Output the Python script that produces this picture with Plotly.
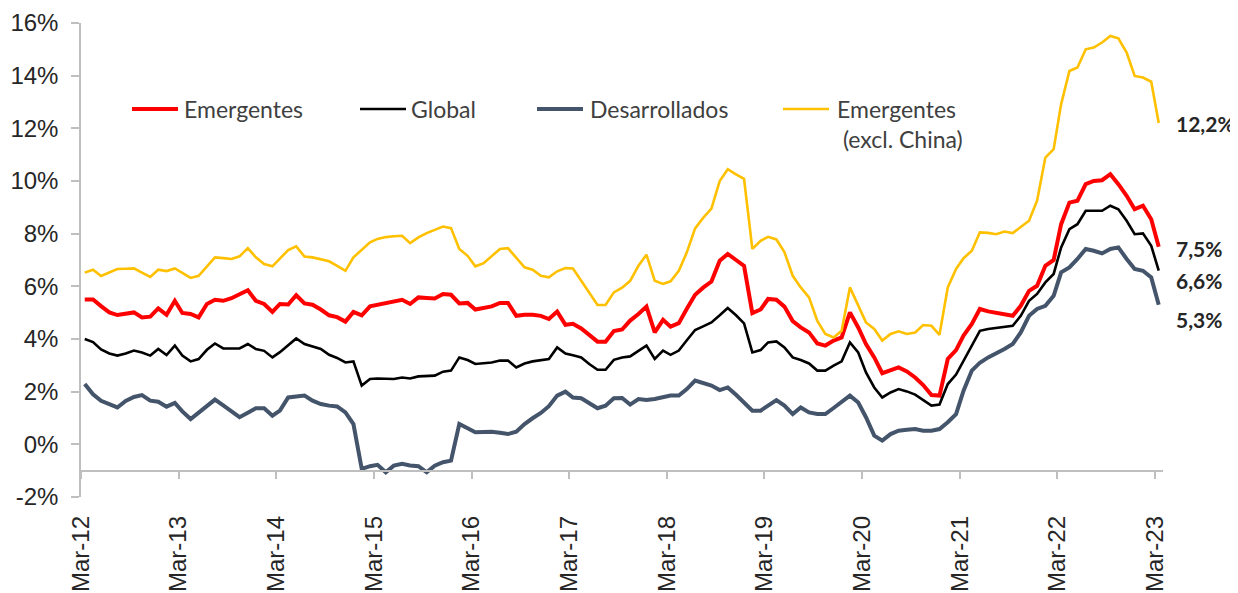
import pandas as pd
import plotly.graph_objects as go

# ---------------- data (monthly, Mar-12 .. Mar-23) ----------------
months = pd.date_range("2012-03-01", "2023-03-01", freq="MS") + pd.Timedelta(days=14)

emergentes = [
    5.50, 5.50, 5.25, 5.01, 4.91, 4.95, 5.01, 4.82, 4.85, 5.16, 4.92, 5.45,
    4.99, 4.95, 4.82, 5.33, 5.49, 5.45, 5.55, 5.70, 5.85, 5.45, 5.33, 5.03,
    5.33, 5.31, 5.66, 5.35, 5.30, 5.12, 4.90, 4.83, 4.66, 5.03, 4.90, 5.24,
    5.30, 5.36, 5.42, 5.49, 5.33, 5.58, 5.56, 5.54, 5.71, 5.68, 5.35, 5.37,
    5.12, 5.18, 5.24, 5.37, 5.37, 4.88, 4.92, 4.92, 4.88, 4.76, 5.04, 4.54,
    4.58, 4.40, 4.15, 3.90, 3.90, 4.30, 4.36, 4.70, 4.95, 5.23, 4.25, 4.73,
    4.47, 4.60, 5.15, 5.68, 5.95, 6.18, 6.97, 7.23, 7.00, 6.78, 4.98, 5.12,
    5.52, 5.49, 5.23, 4.68, 4.44, 4.25, 3.83, 3.75, 3.94, 4.06, 5.01, 4.44,
    3.81, 3.30, 2.70, 2.80, 2.92, 2.77, 2.54, 2.25, 1.87, 1.85, 3.24, 3.58,
    4.13, 4.57, 5.14, 5.05, 5.00, 4.95, 4.88, 5.26, 5.83, 6.02, 6.78, 7.00,
    8.36, 9.18, 9.25, 9.88, 10.00, 10.03, 10.26, 9.88, 9.44, 8.93, 9.06, 8.55,
    7.50,
]

global_ = [
    4.00, 3.88, 3.60, 3.45, 3.37, 3.45, 3.56, 3.49, 3.37, 3.62, 3.39, 3.75,
    3.37, 3.15, 3.24, 3.59, 3.83, 3.64, 3.64, 3.64, 3.81, 3.62, 3.55, 3.30,
    3.50, 3.75, 4.02, 3.81, 3.72, 3.62, 3.40, 3.28, 3.11, 3.15, 2.23, 2.48,
    2.50, 2.50, 2.48, 2.54, 2.50, 2.58, 2.60, 2.61, 2.76, 2.80, 3.30, 3.20,
    3.05, 3.08, 3.11, 3.18, 3.18, 2.92, 3.07, 3.15, 3.20, 3.24, 3.68, 3.45,
    3.38, 3.30, 3.05, 2.83, 2.83, 3.21, 3.30, 3.34, 3.55, 3.75, 3.24, 3.56,
    3.40, 3.56, 3.95, 4.34, 4.48, 4.63, 4.90, 5.18, 4.90, 4.59, 3.49, 3.58,
    3.87, 3.91, 3.68, 3.30, 3.20, 3.07, 2.80, 2.80, 2.99, 3.15, 3.87, 3.49,
    2.73, 2.16, 1.78, 1.97, 2.10, 2.01, 1.89, 1.68, 1.47, 1.51, 2.29, 2.65,
    3.18, 3.75, 4.31, 4.38, 4.42, 4.46, 4.50, 4.88, 5.45, 5.71, 6.15, 6.47,
    7.48, 8.17, 8.36, 8.87, 8.87, 8.87, 9.06, 8.93, 8.49, 7.98, 8.01, 7.54,
    6.60,
]

desarrollados = [
    2.29, 1.90, 1.65, 1.53, 1.40, 1.65, 1.80, 1.87, 1.66, 1.62, 1.43, 1.57,
    1.25, 0.96, 1.20, 1.45, 1.70, 1.48, 1.25, 1.03, 1.20, 1.37, 1.37, 1.09,
    1.28, 1.78, 1.82, 1.85, 1.66, 1.53, 1.47, 1.44, 1.21, 0.77, -0.93, -0.83,
    -0.78, -1.06, -0.81, -0.74, -0.80, -0.83, -1.06, -0.81, -0.68, -0.62, 0.77, 0.62,
    0.46, 0.47, 0.48, 0.44, 0.39, 0.48, 0.77, 0.99, 1.19, 1.45, 1.85, 2.00,
    1.78, 1.75, 1.55, 1.37, 1.47, 1.75, 1.76, 1.51, 1.72, 1.68, 1.72, 1.78,
    1.85, 1.85, 2.10, 2.42, 2.33, 2.23, 2.06, 2.16, 1.88, 1.59, 1.28, 1.28,
    1.48, 1.68, 1.47, 1.15, 1.40, 1.21, 1.15, 1.15, 1.38, 1.59, 1.85, 1.59,
    1.03, 0.33, 0.14, 0.39, 0.52, 0.55, 0.58, 0.52, 0.52, 0.58, 0.84, 1.15,
    2.04, 2.80, 3.10, 3.30, 3.45, 3.62, 3.81, 4.25, 4.88, 5.14, 5.26, 5.64,
    6.53, 6.72, 7.04, 7.42, 7.35, 7.25, 7.42, 7.48, 7.04, 6.66, 6.59, 6.34,
    5.30,
]

emergentes_ex_china = [
    6.52, 6.63, 6.39, 6.53, 6.66, 6.67, 6.68, 6.52, 6.36, 6.63, 6.58, 6.68,
    6.50, 6.32, 6.40, 6.75, 7.10, 7.07, 7.04, 7.14, 7.45, 7.10, 6.85, 6.76,
    7.05, 7.38, 7.52, 7.13, 7.10, 7.03, 6.95, 6.78, 6.59, 7.10, 7.40, 7.67,
    7.80, 7.87, 7.90, 7.92, 7.64, 7.86, 8.02, 8.15, 8.27, 8.21, 7.42, 7.16,
    6.76, 6.88, 7.15, 7.42, 7.45, 7.10, 6.72, 6.63, 6.40, 6.34, 6.57, 6.69,
    6.68, 6.21, 5.75, 5.29, 5.29, 5.77, 5.95, 6.21, 6.78, 7.20, 6.21, 6.09,
    6.19, 6.59, 7.29, 8.20, 8.60, 8.95, 10.00, 10.45, 10.25, 10.08, 7.42, 7.73,
    7.88, 7.78, 7.30, 6.40, 5.96, 5.58, 4.69, 4.19, 4.06, 4.31, 5.96, 5.26,
    4.63, 4.38, 3.94, 4.19, 4.29, 4.19, 4.25, 4.53, 4.50, 4.16, 5.96, 6.66,
    7.07, 7.35, 8.05, 8.03, 7.98, 8.08, 8.02, 8.25, 8.49, 9.25, 10.89, 11.21,
    12.92, 14.18, 14.31, 15.00, 15.07, 15.26, 15.51, 15.42, 14.88, 13.99, 13.93, 13.77,
    12.20,
]

tick_dates = pd.date_range("2012-03-01", "2023-03-01", freq="12MS")
tick_labels = [d.strftime("%b-%y") for d in tick_dates]
y_ticks = list(range(-2, 17, 2))
y_tick_labels = [f"{v}%" for v in y_ticks]

series_names = ["Emergentes", "Global", "Desarrollados", "Emergentes (excl. China)"]
series_values = [emergentes, global_, desarrollados, emergentes_ex_china]

# ---------------- styling ----------------
colors = ["#FF0000", "#000000", "#44546A", "#FFC000"]
widths = [4, 2.6, 4, 2.6]
legend_text = ["Emergentes", "Global", "Desarrollados", "Emergentes<br> (excl. China)"]
legend_line_px = [132, 360, 537, 783]   # left of sample line (page px)
legend_text_px = [182, 409, 588, 835]   # left of text (page px)
end_label_yshift = [-2, -10, -15, 0]

# the page body adds an 8px margin, so the figure is drawn 8px in from the corner
OFF = 8
W, H = 1238 - OFF, 593 - OFF
ML, MR, MT, MB = 81 - OFF, 75, 23 - OFF, 96
PW, PH = W - ML - MR, H - MT - MB


def px_x(px):
    return (px - OFF - ML) / PW


def px_y(py):
    return (H - MB - (py - OFF)) / PH


fig = go.Figure()
for name, vals, c, w in zip(series_names, series_values, colors, widths):
    fig.add_trace(go.Scatter(
        x=months, y=vals, mode="lines", name=name,
        line=dict(color=c, width=w), showlegend=False,
        hovertemplate="%{x|%b-%y}: %{y:.1f}%<extra>" + name + "</extra>",
    ))

# legend (manual, to reproduce the original layout)
shapes = []
annotations = []
for txt, c, w, lx, tx in zip(legend_text, colors, widths, legend_line_px, legend_text_px):
    ly = 109
    shapes.append(dict(type="line", xref="paper", yref="paper",
                       x0=px_x(lx), x1=px_x(lx + 46), y0=px_y(ly), y1=px_y(ly),
                       line=dict(color=c, width=w)))
    ty = ly if "<br>" not in txt else 123.5
    annotations.append(dict(text=txt, xref="paper", yref="paper",
                            x=px_x(tx), y=px_y(ty), xanchor="left", yanchor="middle",
                            align="left", showarrow=False,
                            font=dict(family="Lato, Open Sans, sans-serif", size=23, color="#404040")))

# end-of-series value labels
for vals, ys in zip(series_values, end_label_yshift):
    annotations.append(dict(text=f"{vals[-1]:.1f}".replace(".", ",") + "%",
                            x=months[-1], y=vals[-1], xref="x", yref="y",
                            xanchor="left", yanchor="middle", xshift=15, yshift=ys,
                            showarrow=False,
                            font=dict(family="Lato, Open Sans, sans-serif", size=21,
                                      color="#262626", weight="bold")))

axis_color = "#BFBFBF"
tick_font = dict(family="Liberation Sans, Arial, sans-serif", size=24, color="#262626")

fig.update_layout(
    width=W, height=H,
    margin=dict(l=ML, r=MR, t=MT, b=MB, autoexpand=False),
    paper_bgcolor="white", plot_bgcolor="white",
    shapes=shapes, annotations=annotations,
    xaxis=dict(
        type="date", range=["2012-03-01", "2023-03-31"],
        anchor="free", position=1 / 18, automargin=False,
        tickvals=tick_dates, ticktext=tick_labels, tickangle=-90,
        ticks="outside", ticklen=8, tickwidth=1.5, tickcolor=axis_color,
        showline=True, linecolor=axis_color, linewidth=1.5,
        showgrid=False, zeroline=False, tickfont=tick_font,
        ticklabelstandoff=27,
    ),
    yaxis=dict(
        range=[-2, 16], tickvals=y_ticks, ticktext=y_tick_labels, automargin=False,
        ticks="outside", ticklen=8, tickwidth=1.5, tickcolor=axis_color,
        showline=True, linecolor=axis_color, linewidth=1.5,
        showgrid=False, zeroline=False, tickfont=tick_font,
        ticklabelstandoff=8,
    ),
)

fig.write_html("out.html")
